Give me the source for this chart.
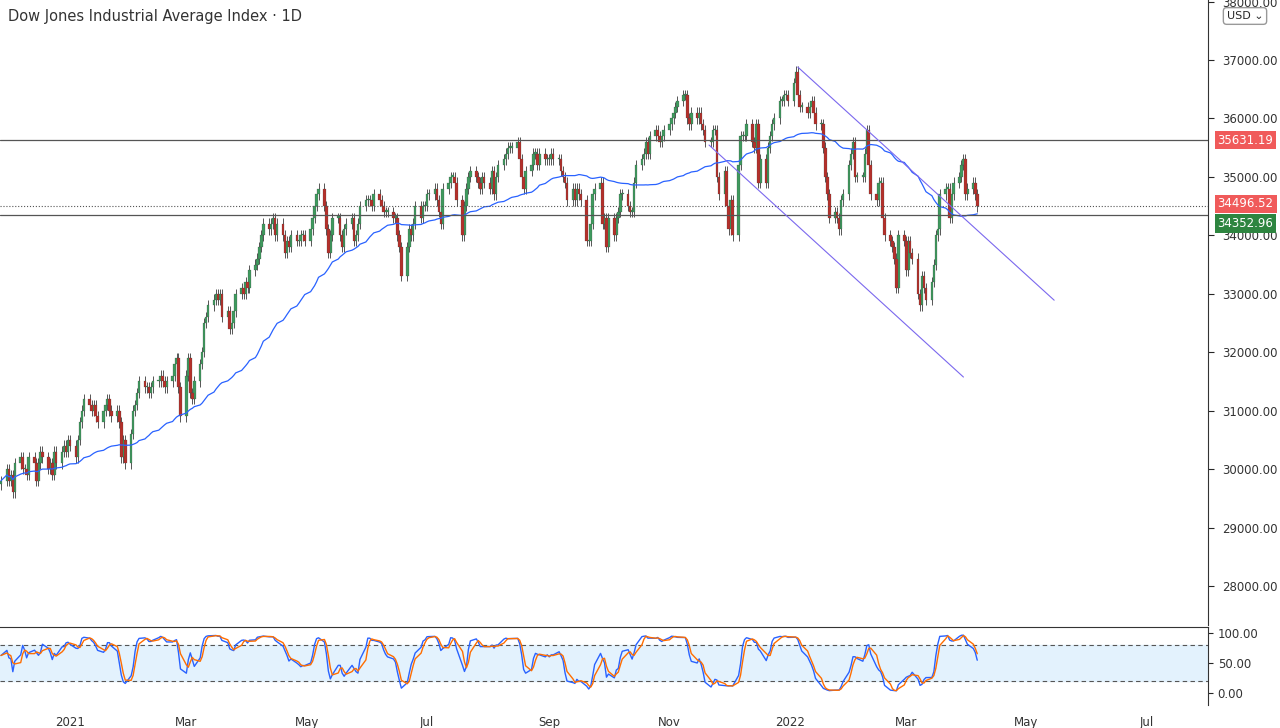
import numpy as np, pandas as pd, matplotlib
matplotlib.use("Agg")
import matplotlib.pyplot as plt, matplotlib.dates as mdates, seaborn as sns

start_date = "2020-11-27"
closes_h = [298,300,298,299,296,
301,
302,300,300,299,302, 301,298,301,303,302, 300,301,299,303,301, 303,304,303,305,304,
302,305,308,310,312, 311,310,311,309,308, 310,311,312,310,309, 310,308,302,305,301,
306,310,311,313,315, 314,314,313,314,315, 315,316,315,314,315, 316,318,319,314,309,
316,319,313,312,315, 318,320,325,326,328, 329,330,329,330,326, 327,324,325,327,330,
331,330,332,331,334, 335,336,338,340,342, 341,342,343,340,342, 340,337,339,338,340,
339,339,340,340,339, 341,343,345,347,348, 345,341,337,340,343, 343,340,338,341,342,
343,339,340,342,345, 346,346,346,345,347, 346,345,344,344,344, 343,343,340,338,333,
338,341,340,342,345, 343,345,345,347,347, 348,346,344,342,348, 349,350,350,349,346,
340,345,348,350,351, 350,349,348,350,349, 348,351,347,350,352, 353,354,355,355,355,
356,353,350,348,351, 352,354,354,352,354, 353,353,353,354,353, 353,351,350,349,346,
348,346,348,347,346, 339,339,342,347,348, 349,342,343,338,343, 340,343,344,347,347,
345,344,344,349,352, 353,354,356,354,357, 358,357,356,357,358, 359,360,361,362,363,
364,364,360,359,361, 360,361,359,358,356, 356,358,358,350,347, 351,345,341,346,340,
352,357,357,357,359, 356,355,359,349,353, 349,355,357,359,360, 363,363,364,364,363,
366,368,364,362,362, 361,362,363,361,359, 359,355,350,347,343, 344,343,341,346,347,
352,354,356,350,350, 350,354,358,352,347, 346,349,349,343,340, 339,338,336,331,340,
339,334,339,337,336, 330,328,333,331,329, 332,335,340,341,347, 348,348,343,347,349,
350,352,353,347,348, 349,347,344.9652]
res_levels = [35631.19, 34352.96]
last_price = 34496.52
upper_trend = (["2022-01-05", "2022-05-15"], [36880, 32890])
lower_trend = (["2021-11-21", "2022-03-30"], [35545, 31575])
price_ticks = [28000,29000,30000,31000,32000,33000,34000,35000,36000,37000,38000]
xt_dates = ["2021-01-01","2021-03-01","2021-05-01","2021-07-01","2021-09-01","2021-11-01","2022-01-01","2022-03-01","2022-05-01","2022-07-01"]
xt_labels = ["2021","Mar","May","Jul","Sep","Nov","2022","Mar","May","Jul"]

closes = np.array(closes_h, float) * 100
dates = pd.bdate_range(start_date, periods=len(closes))
opens = np.r_[closes[0] - 60, closes[:-1]]
hi = np.maximum(opens, closes) + 90
lo = np.minimum(opens, closes) - 90
df = pd.DataFrame({"date": dates, "open": opens, "close": closes, "high": hi, "low": lo})
df["ma"] = df["close"].rolling(50, min_periods=1).mean()
ll = df["low"].rolling(14, min_periods=1).min(); hh = df["high"].rolling(14, min_periods=1).max()
df["k"] = ((df["close"] - ll) / (hh - ll) * 100).rolling(3, min_periods=1).mean()
df["d"] = df["k"].rolling(3, min_periods=1).mean()

sns.set_style("white")
plt.rcParams["font.family"] = ["DejaVu Sans"]
fig = plt.figure(figsize=(12.8, 7.28), dpi=100)
W = 1208 / 1280
ax = fig.add_axes([0, 1 - 625 / 728, W, 625 / 728])
ax2 = fig.add_axes([0, 23 / 728, W, 78 / 728])

x = mdates.date2num(df["date"])
up = df["close"] >= df["open"]
ax.vlines(x, df["low"], df["high"], color="#3a3a3a", lw=0.6, zorder=1)
for m, col in [(up, "#3f9a5e"), (~up, "#b5302b")]:
    ax.bar(x[m], (df["close"] - df["open"])[m].abs().clip(lower=25), bottom=np.minimum(df["open"], df["close"])[m],
           width=1.3, color=col, edgecolor="#3a3a3a", lw=0.15, zorder=2)
sns.lineplot(x=x, y=df["ma"], ax=ax, color="#2962ff", lw=0.9)
for lv in res_levels:
    ax.axhline(lv, color="#555555", lw=0.9)
ax.axhline(last_price, color="#555555", lw=0.8, ls=":")
for tr in (upper_trend, lower_trend):
    ax.plot(mdates.date2num(pd.to_datetime(tr[0])), tr[1], color="#7b68ee", lw=0.8)
ax.set_xlim(mdates.date2num(pd.Timestamp("2020-11-26 12:00")), mdates.date2num(pd.Timestamp("2022-08-01")))
ax.set_ylim(27332, 38027)
ax.yaxis.tick_right(); ax.set_yticks(price_ticks)
ax.set_yticklabels([f"{t:.2f}" for t in price_ticks], fontsize=8.5, color="#333")
ax.tick_params(axis="y", length=4, pad=6)
ax.set_xticks([]); ax.set_xlabel(""); ax.set_ylabel("")
for s in ["top", "left", "bottom"]:
    ax.spines[s].set_visible(False)
ax.spines["right"].set_color("#333")
ax.text(0.007, 1 - 17 / 625, "Dow Jones Industrial Average Index · 1D", fontsize=10.5, color="#333",
        va="center", transform=ax.transAxes)
for lv, ypos, col in [(35631.19, 35631.19, "#f05a5a"), (last_price, last_price + 40, "#f05a5a"), (34352.96, 34200, "#2e8540")]:
    ax.text(1.008, ypos, f"{lv:.2f}", transform=ax.get_yaxis_transform(), fontsize=8.5, color="white",
            va="center", ha="left", bbox=dict(boxstyle="square,pad=0.25", fc=col, ec="none"), clip_on=False)
fig.text(1245 / 1280, 1 - 16 / 728, "USD ⌄", fontsize=8, ha="center", va="center",
         bbox=dict(boxstyle="round,pad=0.3", fc="white", ec="#999"))

ax2.axhspan(20, 80, color="#e3f2fd")
ax2.axhline(80, color="#555", lw=0.8, ls="--", dashes=(4, 3))
ax2.axhline(20, color="#555", lw=0.8, ls="--", dashes=(4, 3))
sns.lineplot(x=x, y=df["k"], ax=ax2, color="#2962ff", lw=1.0)
sns.lineplot(x=x, y=df["d"], ax=ax2, color="#ff6d00", lw=1.0)
ax2.set_xlim(ax.get_xlim()); ax2.set_ylim(-20, 110)
ax2.yaxis.tick_right(); ax2.set_yticks([0, 50, 100])
ax2.set_yticklabels(["0.00", "50.00", "100.00"], fontsize=8.5, color="#333")
ax2.set_xticks(mdates.date2num(pd.to_datetime(xt_dates)))
ax2.set_xticklabels(xt_labels, fontsize=8.5, color="#333")
ax2.tick_params(axis="x", length=0, pad=8); ax2.set_xlabel(""); ax2.set_ylabel("")
for s in ["left", "bottom"]:
    ax2.spines[s].set_visible(False)
ax2.spines["top"].set_color("#333"); ax2.spines["right"].set_color("#333")
fig.savefig("out.png", dpi=100, facecolor="white")
